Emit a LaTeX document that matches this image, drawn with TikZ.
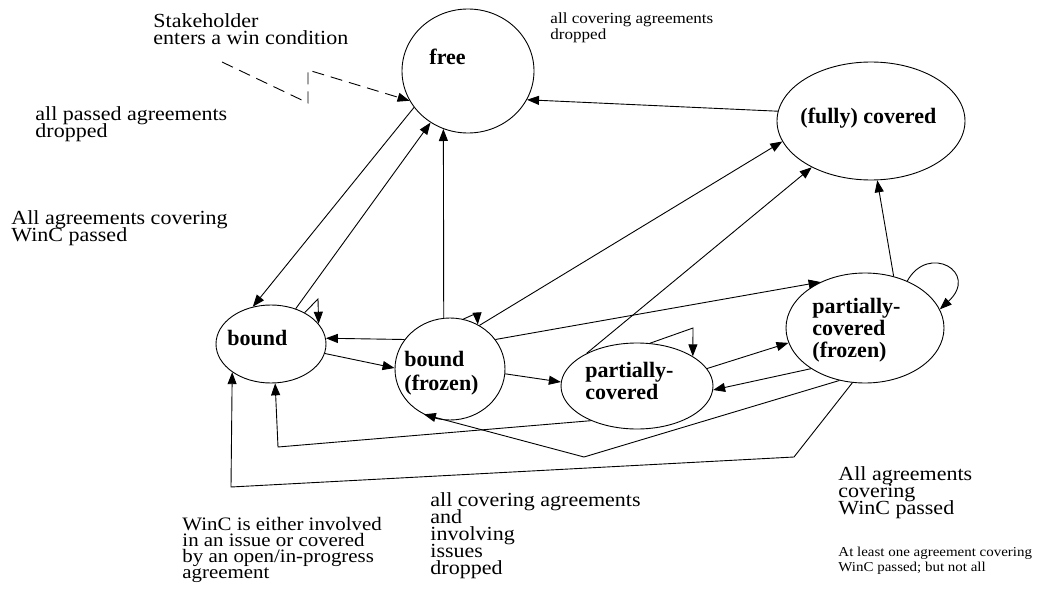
\documentclass[tikz,border=0pt]{standalone}
\usepackage{fontspec}
\setmainfont{Liberation Serif}
% slightly widened serif for the annotations
\newfontfamily\notefont{Liberation Serif}[FakeStretch=1.1]
\usetikzlibrary{shapes.geometric,arrows.meta}
\begin{document}
% tight line spacing: keep \baselineskip even when lines nearly touch
\lineskiplimit=-100pt
\begin{tikzpicture}[x=1pt,y=-1pt,
  line width=0.9pt,
  state/.style={ellipse,draw,inner sep=0pt},
  % the base anchor of a multi-line note sits on its last line
  note/.style={inner sep=0pt,anchor=base west,align=left,font=\notefont\fontsize{20}{17}\selectfont},
  title/.style={inner sep=0pt,anchor=base west,align=left,font=\fontsize{22}{22}\selectfont\bfseries},
  trans/.style={-{Triangle[length=12pt,width=9pt]}},
]
\useasboundingbox (0,0) rectangle (1037,602);

% states
\node[state,minimum width=132pt,minimum height=124pt] (free)  at (468,71)  {};
\node[state,minimum width=188pt,minimum height=118pt] (cov)   at (871,121) {};
\node[state,minimum width=110pt,minimum height=78pt]  (bound) at (271,344) {};
\node[state,minimum width=110pt,minimum height=102pt] (bfz)   at (450,369) {};
\node[state,minimum width=152pt,minimum height=86pt]  (pc)    at (637,386) {};
\node[state,minimum width=158pt,minimum height=110pt] (pcf)   at (865,328) {};

% state names
\node[title] (t-free)  at (429,65)  {free};
\node[title] (t-cov)   at (800,124) {(fully) covered};
\node[title] (t-bound) at (227,345) {bound};
\node[title,font=\fontsize{22}{24}\selectfont\bfseries] (t-bfz) at (404,390) {bound\\(frozen)};
\node[title] (t-pc)  at (585,399) {partially-\\covered};
\node[title] (t-pcf) at (812,357) {partially-\\covered\\(frozen)};

% notes
\node[note] (n-stk) at (153,45) {Stakeholder\\enters a win condition};
\node[note,font=\notefont\fontsize{15.5}{16}\selectfont] (n-allcov) at (550,40) {all covering agreements\\dropped};
\node[note] (n-allpass) at (35,137)  {all passed agreements\\dropped};
\node[note] (n-allwinc) at (11,241)  {All agreements covering\\WinC passed};
\node[note,font=\notefont\fontsize{19}{16}\selectfont] (n-winc) at (182,578)
  {WinC is either involved\\in an issue or covered\\by an open/in-progress\\agreement};
\node[note] (n-drop) at (430,574)
  {all covering agreements\\and\\involving\\issues\\dropped};
\node[note] (n-allagr) at (838,514) {All agreements\\covering\\WinC passed};
\node[note,font=\notefont\fontsize{13.6}{15}\selectfont] (n-least)  at (838,571) {At least one agreement covering\\WinC passed; but not all};

% routing points
\coordinate (stk) at (222,62);
\coordinate (z1)  at (308,103);
\coordinate (z2)  at (308,70);
\coordinate (lb)  at (318,299);
\coordinate (lbf) at (477,313);
\coordinate (lpc) at (693,328);
\coordinate (k1)  at (278,447);
\coordinate (k2)  at (584,457);
\coordinate (k3)  at (794,457);
\coordinate (k4)  at (231,487);

% stakeholder entry
\draw[trans,dash pattern=on 12pt off 7pt] (stk) -- (z1) -- (z2) -- (free.207);

% transitions
\draw[trans] (free.214) -- (bound.116);
\draw[trans] (bound.55) -- (free.234);
\draw[trans] (bfz.97) -- (free.247);
\draw[trans] (cov.174) -- (free.334);
\draw[trans] (bfz.56) -- (cov.193);
\draw[trans] (pc.147) -- (cov.218);
\draw[trans] (pcf.61) -- (cov.276);
\draw[trans] (bfz.147) -- (bound.6);
\draw[trans] (bound.350) -- (bfz.179);
\draw[trans] (bfz.355) -- (pc.177);
\draw[trans] (pc.14) -- (pcf.191);
\draw[trans] (pcf.217) -- (pc.357);
\draw[trans] (bfz.33) -- (pcf.134);
\draw[trans] (pc.217) -- (k1) -- (bound.276);
\draw[trans] (pcf.244) -- (k2) -- (bfz.240);
\draw[trans] (pcf.257) -- (k3) -- (k4) -- (bound.216);

% self transitions
\draw[trans] (bound.43) -- (lb) -- (bound.23);
\draw[trans] (bfz.75) -- (lbf) -- (bfz.58);
\draw[trans] (pc.73) -- (lpc) -- (pc.28);
\draw[trans] (pcf.48) .. controls (928,243) and (980,272) .. (pcf.14);
\end{tikzpicture}
\end{document}
